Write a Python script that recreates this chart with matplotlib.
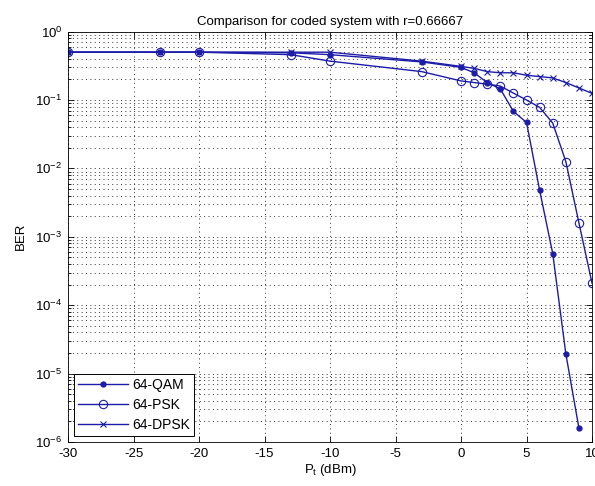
import matplotlib
matplotlib.use("Agg")
import matplotlib.pyplot as plt
import numpy as np
from matplotlib.ticker import LogLocator, NullFormatter, FixedLocator

plt.rcParams["font.family"] = ["Liberation Sans", "DejaVu Sans"]
plt.rcParams["mathtext.fontset"] = "custom"
plt.rcParams["mathtext.rm"] = "Liberation Sans"
plt.rcParams["mathtext.it"] = "Liberation Sans"
plt.rcParams["axes.unicode_minus"] = False

# transmit power (dBm)
pt = [-30, -23, -20, -13, -10, -3, 0, 1, 2, 3, 4, 5, 6, 7, 8, 9, 10]

# BER values (QAM has no point at 10 dBm)
ber_qam = [0.5, 0.5, 0.5, 0.49, 0.46, 0.36, 0.30, 0.25, 0.18, 0.145,
           0.068, 0.047, 4.8e-3, 5.7e-4, 1.95e-5, 1.6e-6, np.nan]
ber_psk = [0.5, 0.5, 0.5, 0.46, 0.37, 0.26, 0.19, 0.18, 0.17, 0.16,
           0.126, 0.10, 0.078, 0.046, 0.0126, 1.6e-3, 2.1e-4]
ber_dpsk = [0.5, 0.5, 0.5, 0.5, 0.5, 0.37, 0.31, 0.29, 0.26, 0.25,
            0.25, 0.23, 0.22, 0.21, 0.18, 0.15, 0.125]

labels = ["64-QAM", "64-PSK", "64-DPSK"]
blue = "#1c1ca8"

fig = plt.figure(figsize=(5.95, 4.86), dpi=100)
ax = fig.add_axes([0.1143, 0.0905, 0.8807, 0.8445])

ax.semilogy(pt, ber_qam, color=blue, lw=1.0, marker=".", ms=7, label=labels[0])
ax.semilogy(pt, ber_psk, color=blue, lw=1.0, marker="o", ms=6, mfc="none",
            mew=0.8, label=labels[1])
ax.semilogy(pt, ber_dpsk, color=blue, lw=1.0, marker="x", ms=5, mew=0.8,
            label=labels[2])

ax.set_xlim(-30, 10)
ax.set_ylim(1e-6, 1)
ax.xaxis.set_major_locator(FixedLocator(np.arange(-30, 11, 5)))
ax.yaxis.set_major_locator(LogLocator(base=10, numticks=10))
ax.yaxis.set_minor_locator(LogLocator(base=10, subs=np.arange(2, 10), numticks=20))
ax.yaxis.set_minor_formatter(NullFormatter())

grid_style = dict(ls=(0, (1, 3.5)), color="0.2", lw=0.7)
ax.grid(True, which="major", axis="x", **grid_style)
ax.grid(True, which="both", axis="y", **grid_style)

ax.tick_params(which="both", direction="in", top=True, right=True,
               labelsize=9.5, width=0.6)
ax.tick_params(which="major", length=4, pad=4)
ax.tick_params(which="minor", length=2)
for s in ax.spines.values():
    s.set_linewidth(0.6)

ax.set_title("Comparison for coded system with r=0.66667", fontsize=9.5, pad=5)
ax.set_xlabel(r"P$_\mathrm{t}$ (dBm)", fontsize=9.5, labelpad=2)
ax.set_ylabel("BER", fontsize=9.5, labelpad=6)

leg = ax.legend(loc="lower left", fontsize=10, handlelength=3.6, numpoints=1,
                fancybox=False, edgecolor="k", framealpha=1,
                borderaxespad=0.4, borderpad=0.3, labelspacing=0.45,
                handletextpad=0.3)
leg.get_frame().set_linewidth(0.7)

fig.savefig("out.png", dpi=100)
